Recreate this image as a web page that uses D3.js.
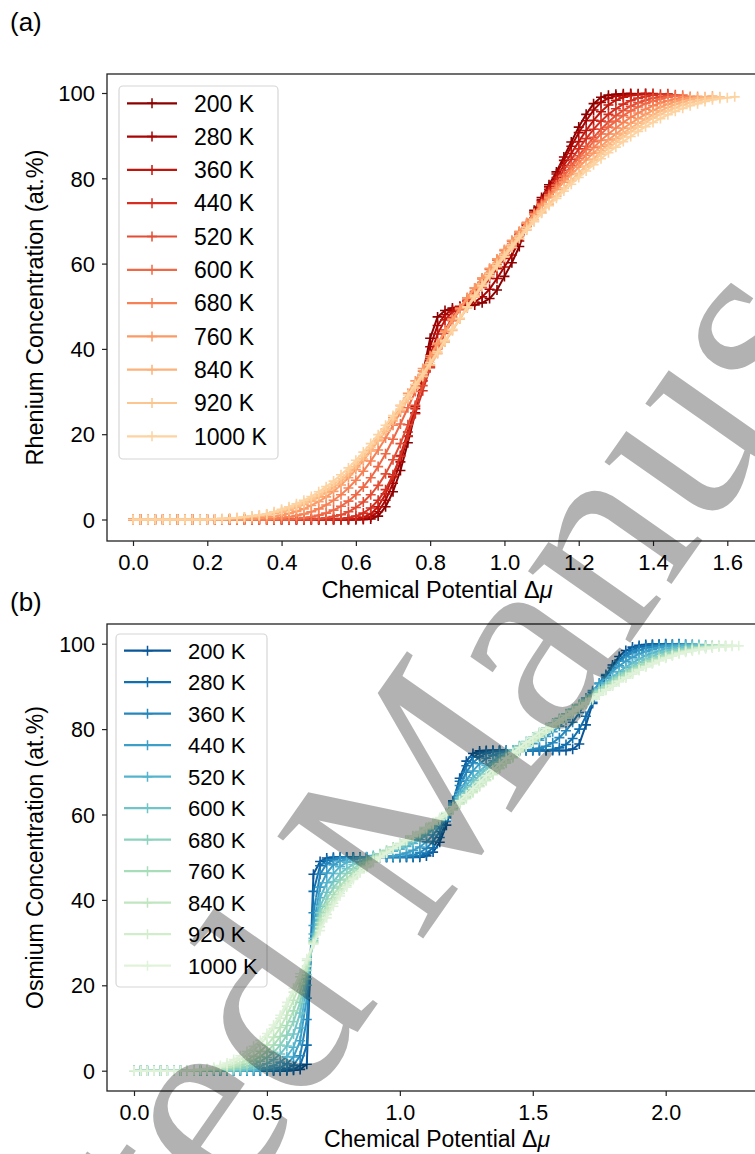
<!DOCTYPE html>
<html><head><meta charset="utf-8">
<script src="https://cdn.jsdelivr.net/npm/d3@7"></script>
<style>body{margin:0;background:#fff}svg{display:block}</style>
</head><body>
<svg id="c" width="755" height="1154"></svg>
<script>
// ---------------- data ----------------
const temps = ["200 K","280 K","360 K","440 K","520 K","600 K","680 K","760 K","840 K","920 K","1000 K"];
const reStep = 0.02;   // Δμ spacing of panel (a) points
const osStep = 0.025;  // Δμ spacing of panel (b) points
const reXTicks = [0,0.2,0.4,0.6,0.8,1.0,1.2,1.4,1.6];
const osXTicks = [0,0.5,1.0,1.5,2.0];
const yTicks = [0,20,40,60,80,100];

// Panel (a): Rhenium concentration (at.%)
const re200 = [0,0,0,0,0,0,0,0,0,0, 0,0,0,0,0,0,0,0,0,0, 0,0,0,0,0,0,0,0,0,0, 0,0,
 0.1,0.8,3,6.5,11.5,18,25,34,42.5,47.5,49,49.6,49.9,50.1,50.3,50.8,51.8,53.8,57,60.2,64,69,72.5,75.5,78.5,81.5,85,88.5,92,95,97.5,99,99.5,99.7,99.8,99.9];
const re280 = [0,0,0,0,0,0,0,0,0,0, 0,0,0,0,0,0,0,0,0,0, 0,0,0,0,0,0,0,0,0,0, 0,
 0.2,0.6,1.8,4.5,8.5,13.5,19.5,26,33.5,40.5,45.5,48,49.2,49.8,50.3,51,52.2,54,56.5,59.2,62,65.3,68.8,72,75,78,81,84.2,87.5,90.7,93.5,96,97.8,98.8,99.3,99.5,99.7,99.8,99.9];
const re360 = [0,0,0,0,0,0,0,0,0,0, 0,0,0,0,0,0,0,0,0,0, 0,0,0,0,0,0,0,0,0,0,
 0.2,0.5,1.3,3,6,10,15,20.5,26.5,32.5,38.5,43.5,46.8,48.7,50,51.2,52.6,54.4,56.5,58.8,61.2,63.8,66.5,69.2,72,74.7,77.4,80.2,83,85.8,88.6,91.2,93.6,95.6,97.2,98.3,99,99.4,99.6,99.8,99.9];
const re440 = [0,0,0,0,0,0,0,0,0,0, 0,0,0,0,0,0,0,0,0,0, 0,0,0,0,0,0,0,0,
 0.2,0.4,0.8,1.5,2.7,4.5,7,10.5,14.8,19.6,24.8,30.2,35.6,40.4,44.4,47.4,49.6,51.4,53.2,55.2,57.4,59.7,62,64.4,66.8,69.3,71.8,74.3,76.8,79.3,81.9,84.4,86.9,89.3,91.5,93.4,95,96.3,97.4,98.2,98.8,99.2,99.5,99.7,99.8];
const re520 = [0,0,0,0,0,0,0,0,0,0, 0,0,0,0,0,0,0,0,0,0, 0,0,0,0,0,
 0.2,0.4,0.7,1.1,1.8,2.8,4.1,5.8,8,10.7,14,17.8,22.2,26.8,31.4,35.8,40,43.6,46.6,49.2,51.4,53.5,55.6,57.8,60,62.3,64.6,66.9,69.2,71.5,73.8,76.1,78.4,80.7,83,85.3,87.5,89.6,91.5,93.2,94.7,95.9,96.9,97.7,98.3,98.8,99.1,99.4,99.6];
const re600 = [0,0,0,0,0,0,0,0,0,0, 0,0,0,0,0,0,0,0,0,0, 0,0,
 0.2,0.4,0.6,1,1.5,2.2,3.1,4.3,5.8,7.6, 9.8,12.4,15.4,18.8,22.4,26.2,30,33.8,37.5,41, 44.2,47,49.6,52,54.2,56.4,58.6,60.8,63,65.2, 67.4,69.6,71.8,74,76.2,78.4,80.5,82.6,84.7,86.7, 88.6,90.4,92,93.4,94.7,95.8,96.7,97.5,98.1,98.6, 99,99.3,99.5];
const re680 = [0,0,0,0,0,0,0,0,0,0, 0,0,0,0,0,0,0,0,0,
 0.2,0.4,0.6,0.9,1.3,1.8,2.5,3.4,4.5,5.8, 7.4,9.2,11.3,13.7,16.3,19.1,22.1,25.2,28.4,31.6, 34.8,38,41.1,44.1,46.9,49.5,52,54.3,56.6,58.8, 61,63.2,65.4,67.5,69.6,71.7,73.8,75.8,77.8,79.8, 81.7,83.6,85.4,87.2,88.9,90.4,91.8,93.1,94.3,95.3, 96.2,97,97.7,98.2,98.6,99,99.2];
const re760 = [0,0,0,0,0,0,0,0,0,0, 0,0,0,0,0,0,
 0.2,0.3,0.5,0.7,1,1.4,1.9,2.5,3.3,4.2, 5.3,6.6,8.1,9.8,11.7,13.8,16.1,18.6,21.2,23.9, 26.7,29.6,32.5,35.4,38.4,41.3,44.1,46.8,49.4,51.9, 54.3,56.6,58.9,61.1,63.3,65.4,67.5,69.5,71.5,73.5, 75.4,77.3,79.1,80.9,82.6,84.3,85.9,87.5,89,90.4, 91.7,92.9,94,95,95.9,96.7,97.4,98,98.5,98.9, 99.2];
const re840 = [0,0,0,0,0,0,0,0,0,0, 0,0,0,
 0.2,0.3,0.4,0.6,0.8,1.1,1.4,
 1.7,2.2,2.8,3.5,4.3,5.2,6.3,7.5,8.9,10.5, 12.3,14.2,16.2,18.4,20.7,23.1,25.6,28.2,30.8,33.5, 36.2,38.9,41.6,44.3,47,49.6,52.1,54.6,57,59.3, 61.5,63.7,65.8,67.9,69.9,71.9,73.9,75.8,77.7,79.5, 81.2,82.9,84.5,
 86.5,87.9,89.3,90.6,91.8,92.9,93.9,94.9,95.8,96.6,97.3,97.9,98.4,98.8,99.1,99.3];
const re920 = [0,0,0,0,0,0,0,0,0,0, 0,
 0.1,0.2,0.3,0.4,0.6,0.8,1,1.3,1.7,
 2.1,2.6,3.2,3.9,4.8,5.8,6.9,8.2,9.6,11.2, 13,14.9,16.9,19,21.2,23.5,25.9,28.4,31,33.6, 36.3,39,41.7,44.4,47.1,49.9,52.6,55.2,57.7,60, 62.2,64.4,66.5,68.5,70.4,72.3,74.1,75.9,77.6,79.3, 80.9,
 82.6,84.1,85.6,87,88.4,89.7,90.9,92,93.1,94.1,95,95.8,96.5,97.2,97.7,98.2,98.6,98.9,99.1];
const re1000 = [0,0,0,0,0,0,0,0,0,0, 0,
 0.1,0.2,0.3,0.4,0.6,0.8,1,1.3,1.8,
 2.4,3,3.7,4.5,5.4,6.5,7.7,9,10.5,12.1, 13.9,15.8,17.8,19.9,22.1,24.4,26.8,29.2,31.7,34.2, 36.8,39.4,42,44.6,47.2,
 49.8,52.3,54.8,57.2,59.5,61.7,63.9,66,68,69.9, 71.8,73.6,75.3,77,78.6,80.2,81.7,83.2,84.6,86, 87.3,88.6,89.8,91,92.1,93.1,94,94.9,95.7,96.4, 97,97.5,98,98.4,98.7,98.9,99.1];

// Panel (b): Osmium concentration (at.%)
const os200 = [0,0,0,0,0,0,0,0,0,0, 0,0,0,0,0,0,0,0,0,0, 0,0,0,0,
 0.1,0.3,1.5,46,49,49.8,
 50,50,50,50,50,50,50,50,50,50,50,50,50,50,
 50.3,51.2,53.5,57.5,63,68.5,72.5,74.3,74.9,
 75,75,75,75,75,75,75,75,75,75,75,75,75,
 75.3,76.5,81,86,89.5,92.5,95,97,98.4,99.2,99.6,99.8,99.9,99.9,100];
const os280 = [0,0,0,0,0,0,0,0,0,0, 0,0,0,0,0,0,0,0,0,0, 0,0,0,
 0.1,0.3,1.2,6,42,48,49.3,49.7,49.9,
 50,50,50,50,50,50,50,50,50,50,50,
 50.3,50.9,52.2,54.6,58.4,63.2,67.8,71.4,73.4,74.4,74.8,
 75,75,75,75,75,75,75,75,75,
 75.2,75.6,76.4,77.8,80,83,86.3,89.3,92,94.3,96.2,97.6,98.6,99.2,99.5,99.7,99.8,99.9,99.9,100];
const os360 = [0,0,0,0,0,0,0,0,0,0, 0,0,0,0,0,0,0,0,0,0, 0,
 0.1,0.2,0.5,1.3,3.5,12,37,46,48.5,49.4,49.8,
 50,50,50,50,50,50,50,50,50,
 50.2,50.5,51.1,52.1,53.7,56,59.2,63,66.8,69.9,72.1,73.5,74.3,74.7,74.9,
 75,75,75,75,
 75.2,75.5,76,76.8,78,79.6,81.6,83.9,86.3,88.6,90.8,92.8,94.5,95.9,97,97.9,98.5,99,99.3,99.5,99.7,99.8,99.9,99.9];
const os440 = [0,0,0,0,0,0,0,0,0,0, 0,0,0,0,0,0,0,0,0,
 0.1,0.2,0.4,0.8,1.6,3.2,7,17,34,43,46.3,48.2,49.1,49.5,49.8,
 50,50,50,50,
 50.1,50.3,50.6,51,51.6,52.4,53.6,55.2,57.2,59.6, 62.5,65.4,68,70.2,71.9,73.1,73.9,74.4,74.8,75.1, 75.5,76,76.6,77.4,78.3,79.4,80.7,82.2,83.8,85.5, 87.3,89,90.6,92.1,93.5,94.8,95.9,96.8,97.6,98.2, 98.7,99.1,99.4,99.6,99.7,99.8,99.9];
const os520 = [0,0,0,0,0,0,0,0,0,0, 0,0,0,0,0,0,0,
 0.1,0.2,0.4,0.7,1.2,2,3.3,5.5,10,20, 32,40.5,44,46.2,47.8,48.8,49.4,49.8,50.1,50.4, 50.7,51,51.4,51.9,52.5,53.2,54.1,55.2,56.6,58.3, 60.3,62.5,64.7,66.8,68.6,70.2,71.5,72.6,73.5,74.3, 75.1,75.9,76.7,77.6,78.5,79.5,80.5,81.6,82.8,84, 85.3,86.7,88.1,89.5,90.9,92.2,93.4,94.5,95.5,96.4, 97.2,97.8,98.3,98.8,99.1,99.4,99.6,99.7,99.8];
const os600 = [0,0,0,0,0,0,0,0,0,0, 0,0,0,0,0,
 0.1,0.2,0.4,0.7,1.1,1.7,2.6,3.9,5.8,8.6, 13.5,21.5,31,38.5,41.8,44.3,46.2,47.3,48.3,49, 49.6,50.1,50.6,51.1,51.7,52.3,53,53.8,54.7,55.8, 57,58.5,60.2,62.1,64,65.9,67.6,69.2,70.6,71.9, 73,74.1,75.1,76.1,77.1,78.1,79.1,80.1,81.2,82.3, 83.4,84.5,85.7,86.9,88.1,89.3,90.5,91.6,92.7,93.7, 94.7,95.6,96.4,97.1,97.7,98.2,98.6,98.9,99.2,99.4, 99.6,99.7];
const os680 = [0,0,0,0,0,0,0,0,0,0, 0,0,0,
 0.1,0.2,0.4,0.6,1,1.5,2.2,3.1,4.3,6, 8.3,11.5,16,22.5,30.5,37,40.2,42.8,44.7,46.2, 47.3,48.4,49.3,50.1,50.8,51.5,52.2,53,53.8,54.6, 55.5,56.5,57.6,58.8,60.2,61.7,63.3,64.9,66.5,68, 69.5,70.9,72.2,73.5,74.7,75.9,77,78.1,79.2,80.3, 81.4,82.5,83.6,84.7,85.8,86.9,88,89.1,90.2,91.2, 92.2,93.1,94,94.9,95.7,96.4,97,97.6,98.1,98.5, 98.8,99.1,99.3,99.5,99.6];
const os760 = [0,0,0,0,0,0,0,0,0,0, 0,
 0.1,0.2,0.3,0.5,0.8,1.2,1.7,2.4,3.3,4.5, 6,8,10.6,14,18.3,23.5,30.2,35.8,38.8,41.2, 43.2,44.9,46.4,47.7,48.8,49.8,50.7,51.6,52.4,53.2, 54,54.9,55.8,56.8,57.8,58.9,60.1,61.4,62.8,64.3, 65.8,67.3,68.8,70.2,71.6,73,74.3,75.5,76.7,77.8, 78.9,80,81.1,82.2,83.3,84.4,85.5,86.6,87.7,88.8, 89.9,90.9,91.9,92.8,93.7,94.5,95.3,96,96.6,97.2, 97.7,98.1,98.5,98.8,99.1,99.3,99.5,99.6];
const os840 = [0,0,0,0,0,0,0,0,0,0,
 0.1,0.2,0.3,0.5,0.8,1.2,1.8,2.5,3.4,4.5, 6,7.8,10.1,13,16.5,20.4,24.5,30,34.7,37.6, 40,42.1,43.9,45.4,46.7,48,49.2,50.3,51.3,52.2, 53.1,54,54.9,55.8,56.8,57.8,58.9,60,61.2,62.5, 63.9,65.3,66.7,68.1,69.5,70.9,72.3,73.6,74.9,76.1, 77.3,78.4,79.5,80.6,81.7,82.8,83.9,85,86.1,87.2, 88.3,89.4,90.4,91.4,92.3,93.2,94.1,94.9,95.6,96.3, 96.9,97.4,97.9,98.3,98.6,98.9,99.1,99.3,99.4,99.5];
const os920 = [0,0,0,0,0,0,0,0,0,
 0.1,0.2,0.3,0.5,0.8,1.3,1.9,2.7,3.6,4.8, 6.2,7.9,9.9,12.3,15.1,18.4,22,25.8,29.8,33.7, 36.6,39.2,41.5,43.4,45.1,46.5,47.8,49,50.1,51.1, 52.1,53,53.9,54.8,55.7,56.7,57.7,58.8,59.9,61.1, 62.4,63.7,65.1,66.5,67.9,69.3,70.7,72,73.3,74.6, 75.8,77,78.1,79.2,80.3,81.4,82.5,83.6,84.7,85.8, 86.9,88,89.1,90.1,91.1,92,92.9,93.8,94.6,95.4, 96.1,96.7,97.3,97.8,98.2,98.6,98.9,99.1,99.3,99.4, 99.5,99.6];
const os1000 = [0,0,0,0,0,0,0,0,
 0.1,0.2,0.3,0.5,0.8,1.2,1.8,2.6,3.5,4.5, 5.7,7.1,8.7,10.7,13,16,19.3,22.7,26.2,29.6, 32.8,35.8,38.5,40.9,43,44.8,46.3,47.6,48.8,49.9, 51,52,53,54,55,56,57,58.1,59.3,60.5, 61.8,63.2,64.6,66.1,67.6,69.1,70.5,71.9,73.2,74.5, 75.7,76.9,78,79.2,80.2,81.2,82.2,83.2,84.2,85.2, 86.2,87.2,88.2,89.2,90.2,91.2,92.1,93,93.8,94.6, 95.3,96,96.6,97.1,97.6,98,98.3,98.6,98.8,99, 99.2,99.3,99.4,99.5];

const reSeries = [re200,re280,re360,re440,re520,re600,re680,re760,re840,re920,re1000];
const osSeries = [os200,os280,os360,os440,os520,os600,os680,os760,os840,os920,os1000];

// ---------------- drawing ----------------
const FONT = "'Liberation Sans', Arial, Helvetica, sans-serif";
const svg = d3.select("#c");
svg.append("rect").attr("width",755).attr("height",1154).attr("fill","#fff");

function panel(cfg){
  const g = svg.append("g");
  const x = d3.scaleLinear().domain(cfg.xDom).range(cfg.xRange);
  const y = d3.scaleLinear().domain([0,100]).range(cfg.yRange);
  const f = cfg.frame;
  const clipId = "clip"+cfg.id;
  svg.append("clipPath").attr("id",clipId).append("rect")
    .attr("x",f.x0).attr("y",f.y0).attr("width",f.x1-f.x0).attr("height",f.y1-f.y0);
  const plot = g.append("g").attr("clip-path",`url(#${clipId})`);
  const line = d3.line().x((d,i)=>x(i*cfg.step)).y(d=>y(d));
  const plus = "M-5,0H5M0,-5V5";
  cfg.series.forEach((s,k)=>{
    const c = cfg.color(k);
    const sg = plot.append("g");
    sg.append("path").attr("d",line(s)).attr("fill","none").attr("stroke",c)
      .attr("stroke-width",2).attr("stroke-linejoin","round");
    sg.selectAll("path.m").data(s).join("path").attr("class","m")
      .attr("d",plus).attr("transform",(d,i)=>`translate(${x(i*cfg.step)},${y(d)})`)
      .attr("stroke",c).attr("stroke-width",1.6).attr("fill","none");
  });
  g.append("rect").attr("x",f.x0).attr("y",f.y0).attr("width",f.x1-f.x0).attr("height",f.y1-f.y0)
    .attr("fill","none").attr("stroke","#222").attr("stroke-width",1.3);
  const ax = g.append("g").attr("transform",`translate(0,${f.y1})`)
    .call(d3.axisBottom(x).tickValues(cfg.xTicks).tickFormat(d3.format(".1f")).tickSize(5));
  ax.select(".domain").remove();
  ax.selectAll(".tick line").attr("stroke","#222").attr("stroke-width",1.2);
  ax.selectAll(".tick text").attr("dy",null).attr("y",cfg.xTickBase-f.y1)
    .attr("font-family",FONT).attr("font-size",cfg.tickFs).attr("fill","#000");
  const ay = g.append("g").attr("transform",`translate(${f.x0},0)`)
    .call(d3.axisLeft(y).tickValues(yTicks).tickFormat(d3.format("d")).tickSize(5).tickPadding(7));
  ay.select(".domain").remove();
  ay.selectAll(".tick line").attr("stroke","#222").attr("stroke-width",1.2);
  ay.selectAll(".tick text").attr("dy","0.35em")
    .attr("font-family",FONT).attr("font-size",cfg.tickFs).attr("fill","#000");
  const xl = g.append("text").attr("x",cfg.xLabX).attr("y",cfg.xLabY).attr("text-anchor","middle")
    .attr("font-family",FONT).attr("font-size",cfg.labFs);
  xl.append("tspan").text("Chemical Potential Δ");
  xl.append("tspan").attr("font-style","italic").text("μ");
  g.append("text").attr("transform",`translate(${cfg.yLabX},${(f.y0+f.y1)/2}) rotate(-90)`)
    .attr("text-anchor","middle").attr("font-family",FONT).attr("font-size",cfg.labFs)
    .text(cfg.yLab);
  g.append("text").attr("x",10).attr("y",cfg.letterY).attr("font-family",FONT)
    .attr("font-size",26).text(cfg.letter);
  const L = cfg.legend;
  const lg = g.append("g");
  lg.append("rect").attr("x",L.x).attr("y",L.y).attr("width",L.w).attr("height",L.h)
    .attr("rx",4).attr("fill","#fff").attr("fill-opacity",0.8)
    .attr("stroke","#d6d6d6").attr("stroke-width",1.2);
  temps.forEach((t,k)=>{
    const yy = L.row0 + k*L.dy, c = cfg.color(k);
    lg.append("line").attr("x1",L.lx0).attr("x2",L.lx1).attr("y1",yy).attr("y2",yy)
      .attr("stroke",c).attr("stroke-width",2.2);
    const mx = (L.lx0+L.lx1)/2;
    lg.append("path").attr("d",plus).attr("transform",`translate(${mx},${yy})`)
      .attr("stroke",c).attr("stroke-width",1.5);
    lg.append("text").attr("x",L.tx).attr("y",yy).attr("dy","0.36em")
      .attr("font-family",FONT).attr("font-size",L.fs).text(t);
  });
}

panel({id:"a", letter:"(a)", letterY:31, series:reSeries, step:reStep,
  xDom:[0,1.6], xRange:[133,727.3], yRange:[519.5,93], xTicks:reXTicks,
  frame:{x0:107,x1:770,y0:74,y1:541}, xTickBase:569.5, tickFs:22, labFs:23.5,
  xLabX:437, xLabY:598, yLabX:43, yLab:"Rhenium Concentration (at.%)",
  color:k=>d3.interpolateOrRd(0.97-0.072*k),
  legend:{x:119,y:86,w:159,h:373,row0:103.3,dy:33.3,lx0:127,lx1:177,tx:194,fs:23}});

panel({id:"b", letter:"(b)", letterY:611, series:osSeries, step:osStep,
  xDom:[0,2], xRange:[134,665.7], yRange:[1070.7,643.7], xTicks:osXTicks,
  frame:{x0:107,x1:770,y0:624,y1:1091}, xTickBase:1120, tickFs:21.5, labFs:23,
  xLabX:437, xLabY:1147, yLabX:43, yLab:"Osmium Concentration (at.%)",
  color:k=>d3.interpolateGnBu(0.93-0.08*k),
  legend:{x:116,y:634,w:151,h:353,row0:650.7,dy:31.5,lx0:124,lx1:171,tx:188,fs:22}});

// watermark
svg.append("text").attr("transform","translate(460,886) rotate(-55)")
  .attr("text-anchor","middle").attr("font-family","'Liberation Serif','Times New Roman',serif")
  .attr("font-size",272).attr("fill","#000").attr("fill-opacity",0.3)
  .text("Accepted Manuscript");
</script>
</body></html>
